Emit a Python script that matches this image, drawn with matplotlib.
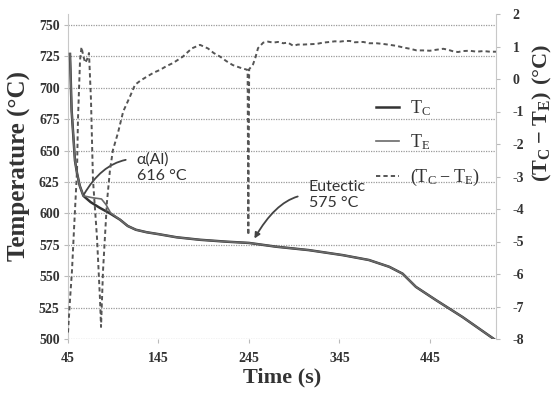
import matplotlib
matplotlib.use("Agg")
import matplotlib.pyplot as plt

# ---- data ----
t_c = [47.2, 49, 52.7, 55.0, 58.0, 62.0, 70, 80, 91.4, 102.5, 111, 120, 132, 145, 165,
       191, 220, 245, 275, 311, 348.5, 377.6, 400, 414.8, 429.5, 451.6, 481, 515.7]
temp_c = [727, 682, 642, 632, 622, 614, 609, 604.5, 600, 595, 590, 587, 585, 583.5, 581,
          579, 577.5, 576.5, 573.5, 570.8, 566.8, 562.9, 557.5, 552, 541.5, 531, 517.5, 500]

t_e = [47.2, 49, 52.7, 55.0, 58.0, 62.0, 72, 82, 87, 92, 102.5, 111, 120, 132, 145, 165,
       191, 220, 245, 275, 311, 348.5, 377.6, 400, 414.8, 429.5, 451.6, 481, 515.7]
temp_e = [727, 682, 642, 632, 622, 614, 612.5, 611.5, 607, 600.5, 595, 590, 587, 585, 583.5, 581,
          579, 577.5, 576.5, 573.5, 570.8, 566.8, 562.9, 557.5, 552, 541.5, 531, 517.5, 500]

t_d = [45, 47.2, 49.4, 51.6, 55, 56, 58.3, 59.9, 62, 64, 66, 68.2, 70.4, 72.6, 77, 80.4, 81.5,
       83.7, 88, 91.4, 94.7, 100.2, 106, 113.5, 119, 125, 132, 140, 146.7, 154, 161, 172,
       181.7, 190.9, 199.7, 206, 213, 220, 227, 235, 243.5, 244.3, 245.2, 249.5, 252, 255,
       260.8, 266, 271.9, 277, 282.9, 288, 294, 299, 305, 312, 319.8, 327, 334.5, 340, 345.5,
       351, 356.6, 362, 371.3, 378, 386, 393, 400.8, 408, 415.5, 423, 430.3, 437, 445, 452,
       459.7, 465, 470.8, 476, 481.8, 489, 496.6, 504, 511.3, 518]
diff_d = [-7.8, -6.8, -5.9, -4.65, -2.8, -1.26, 0.58, 0.98, 0.7, 0.5, 0.6, 0.8, -0.65, -3.1,
          -4.86, -6.8, -7.63, -5.9, -3.8, -2.8, -2.18, -1.66, -1.0, -0.54, -0.18, -0.05, 0.07,
          0.2, 0.28, 0.4, 0.49, 0.69, 0.94, 1.05, 0.94, 0.8, 0.69, 0.55, 0.43, 0.35, 0.28,
          -4.8, 0.3, 0.45, 0.65, 0.95,
          1.12, 1.15, 1.12, 1.14, 1.10, 1.12, 1.02, 1.06, 1.06, 1.07, 1.08, 1.12, 1.14, 1.16,
          1.15, 1.17, 1.17, 1.13, 1.14, 1.10, 1.10, 1.08, 1.05, 1.02, 0.97, 0.93, 0.88, 0.88,
          0.87, 0.90, 0.93, 0.90, 0.85, 0.83, 0.86, 0.87, 0.84, 0.86, 0.84, 0.84]

x_ticks = [45, 145, 245, 345, 445]
y_ticks = list(range(500, 751, 25))
y2_ticks = list(range(-8, 3))

txt = "#333333"
serif = ["Liberation Serif", "DejaVu Serif"]
sans = ["Lato", "DejaVu Sans"]

plt.rcParams["font.family"] = serif
plt.rcParams["font.weight"] = "bold"
plt.rcParams["font.size"] = 10
plt.rcParams["axes.unicode_minus"] = False
plt.rcParams["mathtext.fontset"] = "custom"
plt.rcParams["mathtext.rm"] = "Liberation Serif"

fig = plt.figure(figsize=(5.56, 3.93), dpi=100)
ax = fig.add_axes([68 / 556, 1 - 339 / 393, (496 - 68) / 556, (339 - 14) / 393])
ax2 = ax.twinx()

ax.set_xlim(45, 518)
ax.set_ylim(500, 758.8)
ax2.set_ylim(-8, 2)

for y in y_ticks:
    ax.axhline(y, color="#9a9a9a", lw=0.9, ls=(0, (1, 1)), zorder=0)

l_c, = ax.plot(t_c, temp_c, color="#333333", lw=1.8, zorder=3)
l_e, = ax.plot(t_e, temp_e, color="#6a6a6a", lw=1.2, zorder=3)
l_d, = ax2.plot(t_d, diff_d, color="#555555", lw=1.4, ls=(0, (2.2, 1.6)), zorder=2)

ax.set_xticks(x_ticks)
ax.set_yticks(y_ticks)
ax2.set_yticks(y2_ticks)
for a in (ax, ax2):
    for s in a.spines.values():
        s.set_visible(False)
ax.spines["left"].set_visible(True)
ax.spines["left"].set_color("#c8c8c8")
ax2.spines["right"].set_visible(True)
ax2.spines["right"].set_color("#c8c8c8")

ax.tick_params(axis="x", length=3, color="#bbbbbb", pad=6, labelcolor=txt, labelsize=10)
ax.tick_params(axis="y", length=3, color="#bbbbbb", pad=3, labelcolor=txt, labelsize=10)
ax2.tick_params(axis="y", length=3, color="#bbbbbb", pad=9, labelcolor=txt, labelsize=10)

ax.set_xlabel("Time (s)", fontweight="bold", fontsize=16, color=txt, labelpad=2)
ax.set_ylabel("Temperature (°C)", fontweight="bold", fontsize=18, color=txt)
ax.yaxis.set_label_coords(-0.086, 0.532)
ax2.set_ylabel(r"$\mathregular{(T_C - T_E)\ (°C)}$", fontweight="bold", fontsize=16, color=txt)
ax2.yaxis.set_label_coords(1.082, 0.695)

leg = ax.legend([l_c, l_e, l_d],
                [r"$\mathregular{T_C}$", r"$\mathregular{T_E}$", r"$\mathregular{(T_C - T_E)}$"],
                loc="upper left", bbox_to_anchor=(0.681, 0.79), frameon=False,
                prop={"family": serif, "size": 13, "weight": "normal"}, handlelength=1.3,
                labelspacing=0.8, handletextpad=0.6)
for t in leg.get_texts():
    t.set_color(txt)

ax.annotate("α(Al)\n616 °C", xy=(62.5, 615), xytext=(121, 649), fontfamily=sans, fontsize=11.5,
            fontweight="normal", color=txt, va="top", ha="left", linespacing=1.25,
            arrowprops=dict(arrowstyle="-", color="#444444", lw=1.3,
                            connectionstyle="angle3,angleA=0,angleB=60",
                            shrinkA=6, shrinkB=0, relpos=(0, 0.78)),
            zorder=5)
ax.annotate("Eutectic\n575 °C", xy=(251, 580), xytext=(311, 627), fontfamily=sans, fontsize=11.5,
            fontweight="normal", color=txt, va="top", ha="left", linespacing=1.25,
            arrowprops=dict(arrowstyle="-|>", color="#444444", lw=1.3, mutation_scale=8,
                            connectionstyle="angle3,angleA=0,angleB=60",
                            shrinkA=6, shrinkB=0, relpos=(0, 0.5)),
            zorder=5)

fig.savefig("out.png", dpi=100)
